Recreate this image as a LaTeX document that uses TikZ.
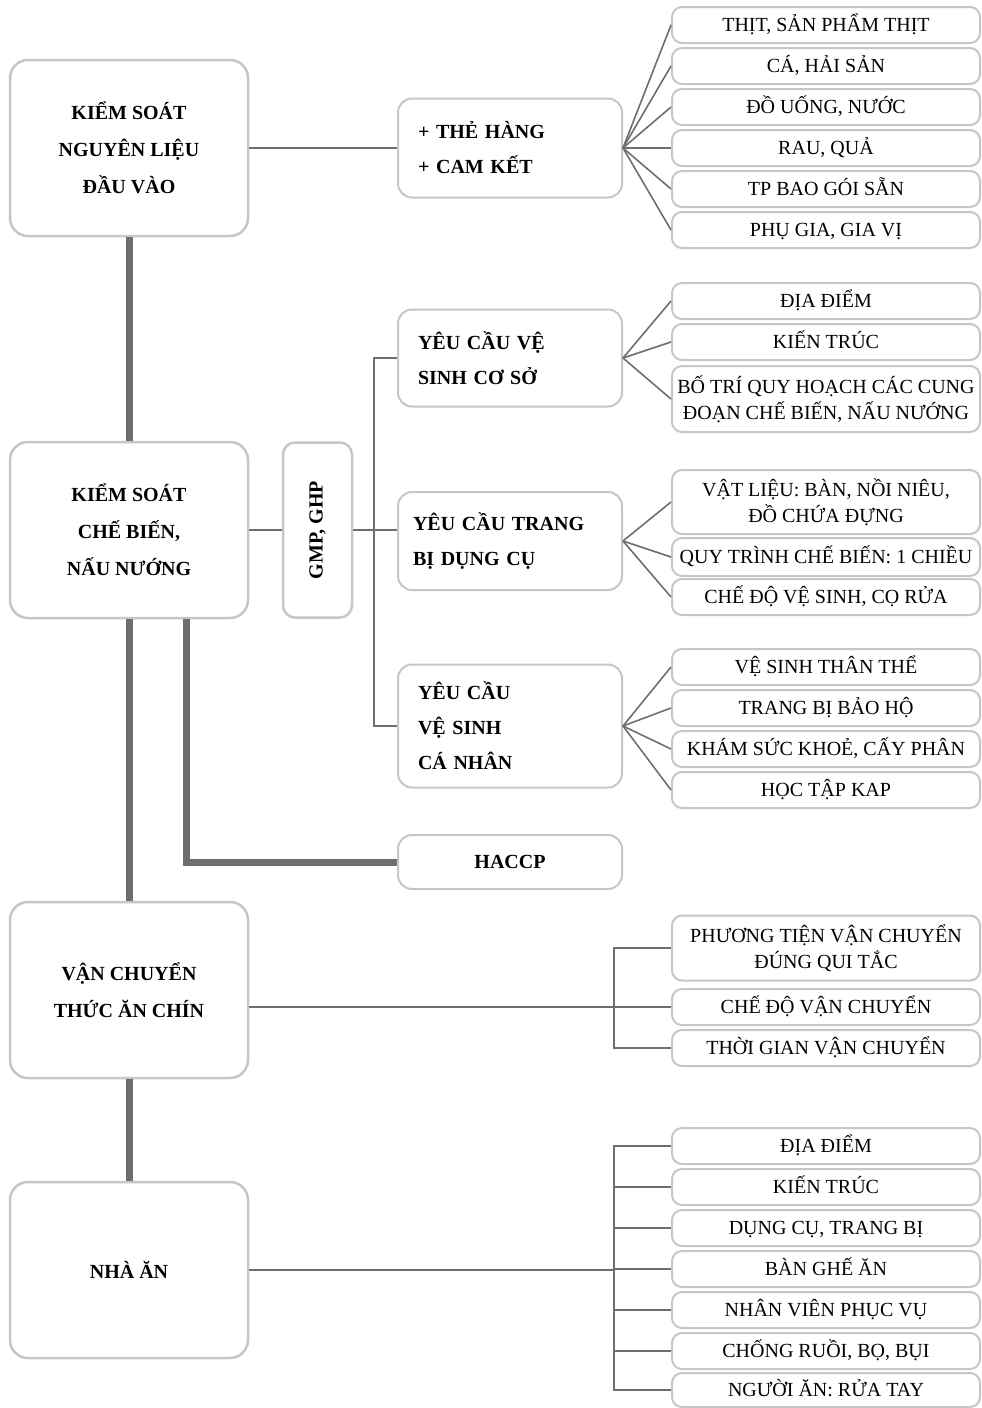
\documentclass[tikz,border=0pt]{standalone}
\usepackage{fontspec}
\setmainfont{Liberation Serif}
\usepackage{tikz}
\definecolor{boxline}{HTML}{C6C6C6}
\definecolor{linegray}{HTML}{6D6E71}
\tikzstyle{mainbox}=[draw=boxline,line width=2.5pt,fill=white,rounded corners=18pt,minimum width=238pt,minimum height=176pt,align=center,font=\bfseries\fontsize{20}{37}\selectfont]
\tikzstyle{subbox}=[draw=boxline,line width=2pt,fill=white,rounded corners=14pt,text width=184pt,inner xsep=20pt,align=left,font=\bfseries\fontsize{20}{35}\selectfont]
\tikzstyle{leafwide}=[draw=boxline,line width=2pt,fill=white,rounded corners=10pt,minimum width=308pt,minimum height=36pt,inner xsep=2pt,align=center,font=\fontsize{20}{26}\selectfont]
\tikzstyle{leaf}=[leafwide,text height=16pt,text depth=3pt]
\tikzstyle{twig}=[draw=linegray,line width=1.6pt]
\tikzstyle{trunk}=[draw=linegray,line width=7pt]

\begin{document}
\begin{tikzpicture}[x=1pt,y=-1pt]
            \useasboundingbox (0,0) rectangle (982,1408);
            % left column
            \node[mainbox] (nguyenlieu) at (129,148) {KIỂM SOÁT\\NGUYÊN LIỆU\\ĐẦU VÀO};
            \node[mainbox] (chebien) at (129,530) {KIỂM SOÁT\\CHẾ BIẾN,\\NẤU NƯỚNG};
            \node[mainbox] (vanchuyen) at (129,990) {VẬN CHUYỂN\\THỨC ĂN CHÍN};
            \node[mainbox] (nhaan) at (129,1270) {NHÀ ĂN};
            \draw[trunk] (nguyenlieu.south) -- (chebien.north);
            \draw[trunk] (chebien.south) -- (vanchuyen.north);
            \draw[trunk] (vanchuyen.south) -- (nhaan.north);

            % input control
            \node[subbox,minimum height=99pt] (thehang) at (510,148) {+ THẺ HÀNG\\+ CAM KẾT};
            \draw[twig] (nguyenlieu.east) -- (thehang.west);
            \node[leaf] (nl1) at (826,25) {THỊT, SẢN PHẨM THỊT};
            \node[leaf] (nl2) at (826,66) {CÁ, HẢI SẢN};
            \node[leaf] (nl3) at (826,107) {ĐỒ UỐNG, NƯỚC};
            \node[leaf] (nl4) at (826,148) {RAU, QUẢ};
            \node[leaf] (nl5) at (826,189) {TP BAO GÓI SẴN};
            \node[leaf] (nl6) at (826,230) {PHỤ GIA, GIA VỊ};
            \foreach \n in {1,...,6}
                \draw[twig] (thehang.east) -- (nl\n.west);

            % processing control
            \node[draw=boxline,line width=2.5pt,fill=white,rounded corners=12pt,rotate=90,
                minimum width=175pt,minimum height=69pt,font=\bfseries\fontsize{20}{24}\selectfont]
                (gmp) at (317.5,530) {GMP, GHP};
            \draw[twig] (chebien.east |- gmp) -- (gmp.north);
            \node[subbox,minimum height=97pt] (coso) at (510,358) {YÊU CẦU VỆ\\SINH CƠ SỞ};
            \node[subbox,minimum height=98pt,inner xsep=15pt,text width=194pt] (dungcu) at (510,541) {YÊU CẦU TRANG\\BỊ DỤNG CỤ};
            \node[subbox,minimum height=123pt] (canhan) at (510,726) {YÊU CẦU\\VỆ SINH\\CÁ NHÂN};
            \coordinate (gmpfork) at (374,530);
            \draw[twig] (gmp.south) -- (gmpfork) -- (gmpfork -| dungcu.west);
            \draw[twig] (coso.west) -| (gmpfork) |- (canhan.west);

            \node[leaf] (cs1) at (826,301) {ĐỊA ĐIỂM};
            \node[leaf] (cs2) at (826,342) {KIẾN TRÚC};
            \node[leafwide,minimum height=66pt] (cs3) at (826,399) {BỐ TRÍ QUY HOẠCH CÁC CUNG\\ĐOẠN CHẾ BIẾN, NẤU NƯỚNG};
            \foreach \n in {1,...,3}
                \draw[twig] (coso.east) -- (cs\n.west);

            \node[leafwide,minimum height=64pt] (dc1) at (826,502) {VẬT LIỆU: BÀN, NỒI NIÊU,\\ĐỒ CHỨA ĐỰNG};
            \node[leaf,minimum height=38pt] (dc2) at (826,557) {QUY TRÌNH CHẾ BIẾN: 1 CHIỀU};
            \node[leaf] (dc3) at (826,597) {CHẾ ĐỘ VỆ SINH, CỌ RỬA};
            \foreach \n in {1,...,3}
                \draw[twig] (dungcu.east) -- (dc\n.west);

            \node[leaf] (cn1) at (826,667) {VỆ SINH THÂN THỂ};
            \node[leaf] (cn2) at (826,708) {TRANG BỊ BẢO HỘ};
            \node[leaf] (cn3) at (826,749) {KHÁM SỨC KHOẺ, CẤY PHÂN};
            \node[leaf] (cn4) at (826,790) {HỌC TẬP KAP};
            \foreach \n in {1,...,4}
                \draw[twig] (canhan.east) -- (cn\n.west);

            \node[subbox,minimum height=54pt,align=center] (haccp) at (510,862) {HACCP};
            \draw[trunk] (chebien.south -| 186,0) |- (haccp.west);

            % transport
            \coordinate (vcfork) at (614,1007);
            \node[leafwide,minimum height=65pt] (vc1) at (826,948) {PHƯƠNG TIỆN VẬN CHUYỂN\\ĐÚNG QUI TẮC};
            \node[leaf] (vc2) at (826,1007) {CHẾ ĐỘ VẬN CHUYỂN};
            \node[leaf] (vc3) at (826,1048) {THỜI GIAN VẬN CHUYỂN};
            \draw[twig] (vanchuyen.east |- vcfork) -- (vcfork);
            \draw[twig] (vc1.west) -| (vcfork) |- (vc3.west);
            \draw[twig] (vcfork) -- (vc2.west);

            % dining hall
            \coordinate (nafork) at (614,1270);
            \node[leaf] (na1) at (826,1146) {ĐỊA ĐIỂM};
            \node[leaf] (na2) at (826,1187) {KIẾN TRÚC};
            \node[leaf] (na3) at (826,1228) {DỤNG CỤ, TRANG BỊ};
            \node[leaf] (na4) at (826,1269) {BÀN GHẾ ĂN};
            \node[leaf] (na5) at (826,1310) {NHÂN VIÊN PHỤC VỤ};
            \node[leaf] (na6) at (826,1351) {CHỐNG RUỒI, BỌ, BỤI};
            \node[leaf,minimum height=34pt] (na7) at (826,1390) {NGƯỜI ĂN: RỬA TAY};
            \draw[twig] (nhaan.east) -- (nafork);
            \draw[twig] (na1.west) -| (nafork) |- (na7.west);
            \foreach \n in {2,...,6}
                \draw[twig] (nafork |- na\n.west) -- (na\n.west);
\end{tikzpicture}
\end{document}
